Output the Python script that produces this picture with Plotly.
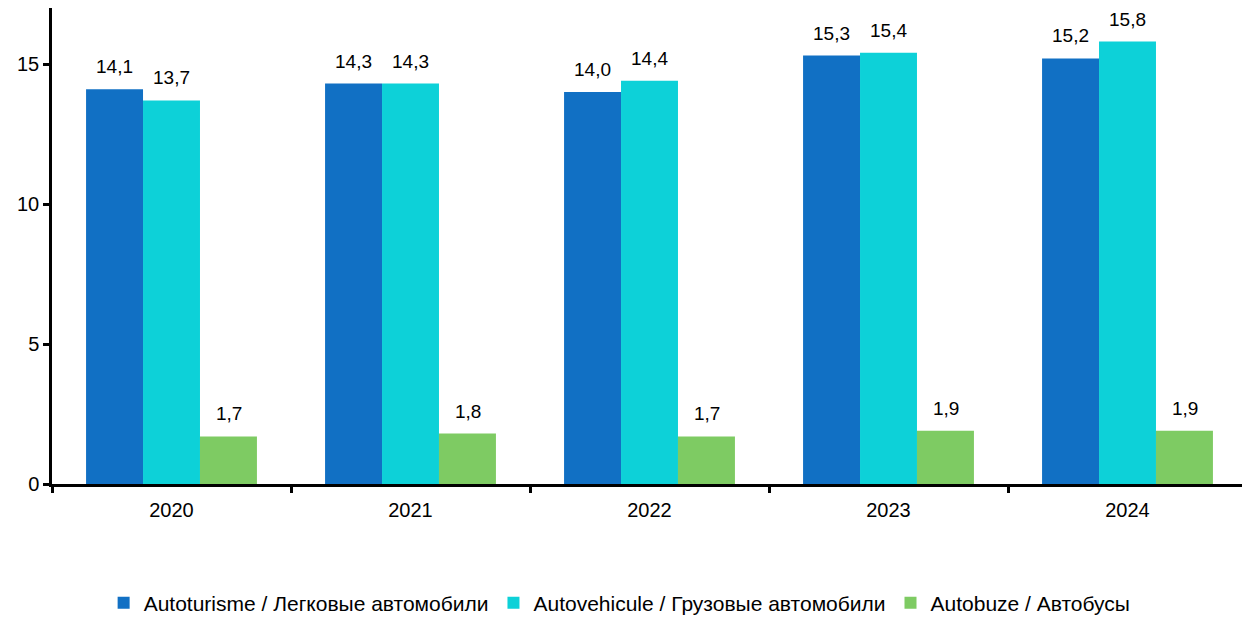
import plotly.graph_objects as go

years = ["2020", "2021", "2022", "2023", "2024"]
cars = [14.1, 14.3, 14.0, 15.3, 15.2]
trucks = [13.7, 14.3, 14.4, 15.4, 15.8]
buses = [1.7, 1.8, 1.7, 1.9, 1.9]

series = [
    ("Autoturisme / Легковые автомобили", cars, "#1170C4"),
    ("Autovehicule / Грузовые автомобили", trucks, "#0DD1D8"),
    ("Autobuze / Автобусы", buses, "#7ECB63"),
]

# page body has an 8px margin, compensate in the figure margins
fig = go.Figure()
bar_px = 57
for i, (name, vals, color) in enumerate(series):
    fig.add_trace(go.Bar(
        x=years, y=vals, name=name,
        marker={"color": color, "line": {"width": 0}},
    ))
    # value labels, a bit above each bar (x as category index,
    # numeric-looking strings would be read as an index too)
    for j, v in enumerate(vals):
        fig.add_annotation(
            x=j, y=v, text=f"{v:.1f}".replace(".", ","),
            showarrow=False, yanchor="bottom", yshift=10,
            xshift=(i - 1) * bar_px,
            font={"size": 19, "color": "#000000"},
        )

fig.update_layout(
    width=1250, height=619,
    barmode="group", bargap=0.285, bargroupgap=0,
    plot_bgcolor="white", paper_bgcolor="white",
    font={"family": "Liberation Sans, Arial, sans-serif", "size": 20, "color": "#000000"},
    margin={"l": 44, "r": 11, "t": 0, "b": 143},
    showlegend=True,
    legend={"orientation": "h", "x": 0.475, "xanchor": "center", "y": -0.25, "yanchor": "middle",
            "font": {"size": 21}, "itemwidth": 30, "traceorder": "normal"},
    xaxis={"type": "category", "range": [-0.5, len(years) - 0.5],
           "showline": True, "linecolor": "#000000", "linewidth": 2.5,
           "ticks": "outside", "tickson": "boundaries", "ticklen": 6, "tickwidth": 2.5,
           "tickcolor": "#000000", "showgrid": False, "ticklabelstandoff": 6},
    yaxis={"range": [0, 17], "dtick": 5, "showline": True, "linecolor": "#000000",
           "linewidth": 2.5, "ticks": "outside", "ticklen": 6, "tickwidth": 2.5,
           "tickcolor": "#000000", "showgrid": False, "zeroline": False},
)

fig.write_html("out.html")
